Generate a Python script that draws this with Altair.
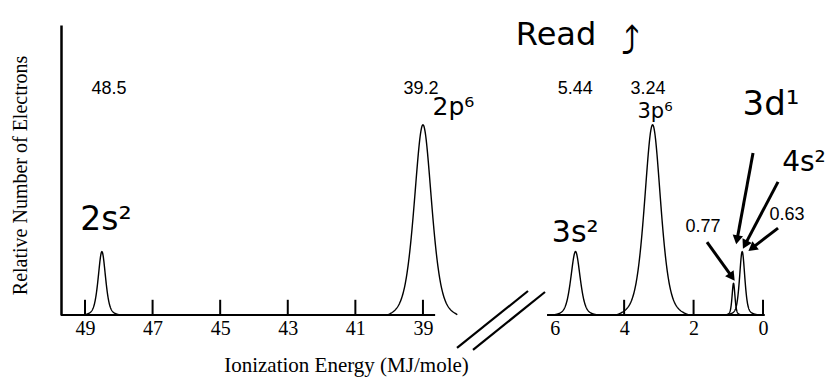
import math
import altair as alt
import pandas as pd

# ---- data ----
orbitals = ["2s", "2p", "3s", "3p", "3d", "4s"]
ionization_energy = [48.5, 39.2, 5.44, 3.24, 0.77, 0.63]
peak_position = [48.5, 39.0, 5.4, 3.18, 0.85, 0.6]
electrons = [2, 6, 2, 6, 1, 2]
half_width = [0.13, 0.31, 0.16, 0.28, 0.05, 0.09]
base_half_width = [0.55, 1.05, 0.65, 1.05, 0.25, 0.5]

tick_values = [49, 47, 45, 43, 41, 39, 6, 4, 2, 0]
tick_marks = [49, 47, 45, 43, 41, 39, 4, 2, 0]

axis_breakpoints = [49.71, 38.0, 6.25, -0.1]
axis_break_px = [0, 395.75, 485, 705.5]
baseline_start = [49.71, 6.22]
baseline_end = [38.64, -0.05]

label_text = [str(v) for v in ionization_energy]
label_x = [48.29, 39.06, 5.41, 3.31, 1.73, -0.69]
label_y = [7.13, 7.13, 7.13, 7.13, 2.78, 3.15]

hand_text = ["2s²", "2p⁶", "3s²", "3p⁶", "3d¹", "4s²", "Read", "⤴"]
hand_x = [48.38, 38.1, 5.41, 3.11, -0.23, -1.18, 5.96, 3.83]
hand_y = [3.0, 6.55, 2.59, 6.4, 6.62, 4.79, 8.83, 8.55]
hand_size = [33, 25, 30, 21, 34, 28, 32, 38]

arrow_x1 = [0.288, -0.432, -0.432, 1.613]
arrow_y1 = [5.11, 4.20, 2.74, 2.30]
arrow_x2 = [0.749, 0.518, 0.317, 0.893]
arrow_y2 = [2.37, 2.22, 2.11, 1.20]

break_x1 = [37.91, 32.22]
break_y1 = [-1.04, -1.10]
break_x2 = [12.65, 6.61]
break_y2 = [0.757, 0.726]

# ---- tables ----
peaks = pd.DataFrame(dict(orbital=orbitals, center=peak_position, height=electrons,
                          w=half_width, b=base_half_width))
labels = pd.DataFrame(dict(t=label_text, x=label_x, y=label_y))
hand = pd.DataFrame(dict(t=hand_text, x=hand_x, y=hand_y, s=hand_size))
ticks = pd.DataFrame(dict(x=tick_marks, y=[0] * len(tick_marks), y2=[0.48] * len(tick_marks)))
base = pd.DataFrame(dict(x=baseline_start, x2=baseline_end, y=[0, 0]))
breaks = pd.DataFrame(dict(x=break_x1, x2=break_x2, y=break_y1, y2=break_y2))

PXX, PXY = 34.72, 31.7
angles = []
for a, b, c, d in zip(arrow_x1, arrow_y1, arrow_x2, arrow_y2):
    dx = -(c - a) * PXX
    dy = -(d - b) * PXY
    angles.append(math.degrees(math.atan2(dx, -dy)) % 360)
arrows = pd.DataFrame(dict(x=arrow_x1, y=arrow_y1, x2=arrow_x2, y2=arrow_y2, ang=angles))

SERIF = "Liberation Serif"
xscale = alt.Scale(domain=axis_breakpoints, range=axis_break_px, nice=False, zero=False)
yscale = alt.Scale(domain=[0, 9.15], nice=False, zero=False)

xaxis = alt.Axis(values=tick_values, format="d", domain=False, ticks=False, grid=False,
                 labelFont=SERIF, labelFontSize=20, labelColor="black", labelPadding=3,
                 labelFlush=False, labelOverlap=False,
                 title="Ionization Energy (MJ/mole)", titleFont=SERIF, titleFontSize=21,
                 titleFontWeight="normal", titleColor="black", titleX=285, titleY=50,
                 titleAlign="center", titleBaseline="middle")
yaxis = alt.Axis(labels=False, ticks=False, grid=False, domainColor="black", domainWidth=2.5,
                 title="Relative Number of Electrons", titleFont=SERIF, titleFontSize=20,
                 titleFontWeight="normal", titleColor="black", titleX=-41, titleY=150,
                 titleAngle=270, titleAlign="center", titleBaseline="middle")


def X(field):
    return alt.X(field, scale=xscale, axis=xaxis, title="Ionization Energy (MJ/mole)")


def Y(field):
    return alt.Y(field, scale=yscale, axis=yaxis, title="Relative Number of Electrons")


curve = alt.Chart(peaks).transform_calculate(
    offs="sequence(-datum.b, datum.b + datum.b/200, datum.b/100)"
).transform_flatten(["offs"]).transform_calculate(
    energy="datum.center + datum.offs",
    pv="0.5/(1+pow(datum.offs/datum.w,2)) + 0.5*exp(-0.693*pow(datum.offs/datum.w,2))",
    pvb="0.5/(1+pow(datum.b/datum.w,2)) + 0.5*exp(-0.693*pow(datum.b/datum.w,2))",
).transform_calculate(
    count="max(0, datum.height*(datum.pv-datum.pvb)/(1-datum.pvb))"
).mark_line(color="black", strokeWidth=1.4).encode(
    x=X("energy:Q"),
    y=Y("count:Q"),
    detail="orbital:N",
    order="offs:Q",
)

baseline = alt.Chart(base).mark_rule(color="black", strokeWidth=2).encode(
    x=X("x:Q"), x2="x2:Q", y=Y("y:Q"),
)

tick_layer = alt.Chart(ticks).mark_rule(color="black", strokeWidth=2).encode(
    x=X("x:Q"), y=Y("y:Q"), y2="y2:Q",
)

break_layer = alt.Chart(breaks).mark_rule(color="black", strokeWidth=2.2, clip=False).encode(
    x=X("x:Q"), x2="x2:Q", y=Y("y:Q"), y2="y2:Q",
)

label_layer = alt.Chart(labels).mark_text(font="Liberation Sans", fontSize=18, color="black",
                                          align="center", baseline="middle").encode(
    x=X("x:Q"), y=Y("y:Q"), text="t:N",
)

hand_layer = alt.Chart(hand).mark_text(font="DejaVu Sans", color="black", align="center",
                                       baseline="middle", clip=False).encode(
    x=X("x:Q"), y=Y("y:Q"), text="t:N",
    size=alt.Size("s:Q", scale=None, legend=None),
)

arrow_lines = alt.Chart(arrows).mark_rule(color="black", strokeWidth=3, clip=False).encode(
    x=X("x:Q"), x2="x2:Q", y=Y("y:Q"), y2="y2:Q",
)
arrow_heads = alt.Chart(arrows).mark_point(shape="triangle-up", filled=True, color="black",
                                           opacity=1, size=110, clip=False).encode(
    x=X("x2:Q"), y=Y("y2:Q"),
    angle=alt.Angle("ang:Q", scale=None),
)

chart = alt.layer(
    curve, baseline, tick_layer, break_layer, label_layer, hand_layer, arrow_lines, arrow_heads
).properties(
    width=706, height=290,
    background="white",
    autosize=alt.AutoSizeParams(type="none"),
    padding={"left": 53, "top": 17, "right": 60, "bottom": 62},
).configure_view(stroke=None)

chart.save("out.html", embed_options={"renderer": "svg", "actions": False})
